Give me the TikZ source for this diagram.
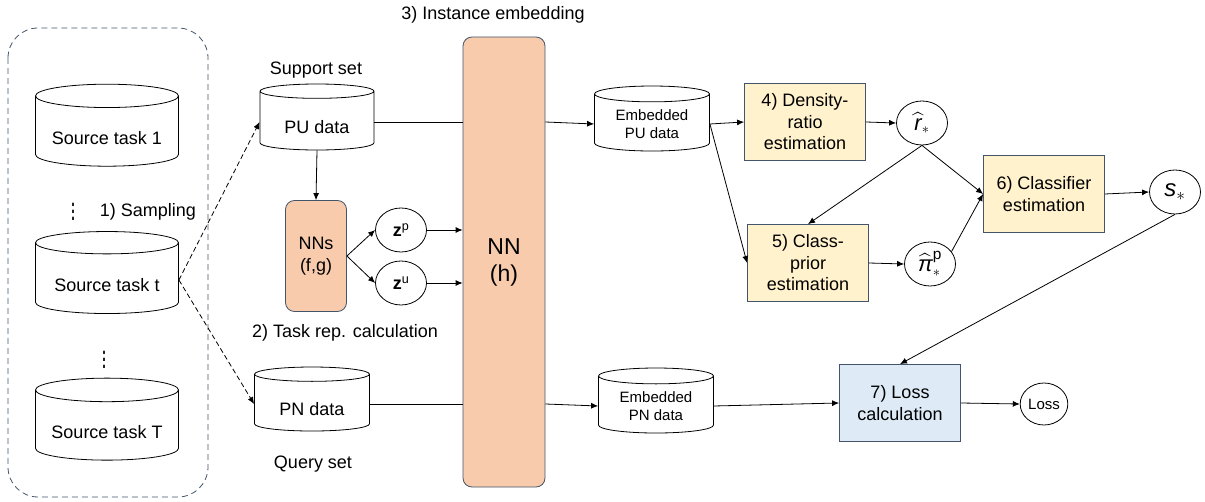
\documentclass[tikz,border=0pt]{standalone}
\usepackage{amsmath}
\usepackage{graphicx}
\usepackage{fontspec}
\setmainfont{Liberation Sans}
\usetikzlibrary{positioning,shapes.geometric,arrows.meta}
\definecolor{edge}{HTML}{44546A}
\definecolor{peach}{HTML}{F8CBAD}
\definecolor{cream}{HTML}{FFF2CC}
\definecolor{paleblue}{HTML}{DEEBF7}
\tikzset{basic/.style={draw,font=\fontsize{18}{21.5}\selectfont,align=center}}
\tikzset{tag/.style={font=\fontsize{18}{21.5}\selectfont}}
\tikzset{db/.style={basic,cylinder,shape border rotate=90,aspect=0.2,minimum width=143pt,minimum height=82pt}}
\tikzset{smalldb/.style={db,font=\fontsize{15}{18}\selectfont,minimum width=115pt,minimum height=65pt}}
\tikzset{estim/.style={basic,rectangle,draw=edge,fill=cream,minimum width=121pt,minimum height=77pt}}
\tikzset{net/.style={basic,rectangle,rounded corners=9pt,draw=edge,fill=peach}}
\tikzset{var/.style={basic,ellipse,minimum width=51pt,minimum height=44pt,inner sep=1pt}}
\tikzset{link/.style={-{Latex[length=7pt,width=6pt]}}}
\newcommand{\tallvdots}{\scalebox{1}[1.7]{$\vdots$}}
\newcommand{\lowtext}[1]{\raisebox{-5pt}[\height][\depth]{#1}}

\begin{document}
\begin{tikzpicture}[x=1pt,y=-1pt,line width=0.8pt]
        \useasboundingbox (0,0) rectangle (1205,502);
        % source tasks
        \draw[edge,dash pattern=on 6pt off 4pt,rounded corners=30pt] (8,28) rectangle (208,497);
        \node[db] (src1) at (107,133) {\lowtext{Source task 1}};
        \node[db] (srct) at (107,280) {\lowtext{Source task t}};
        \node[db] (srcT) at (107,427) {\lowtext{Source task T}};
        \node[tag] (dots1) at (73,207) {\tallvdots};
        \node[tag] (dots2) at (104,355) {\tallvdots};
        \node[tag] (sampling) at (148,212) {1) Sampling};
        % support and query sets
        \node[db,minimum width=114pt,minimum height=66pt] (pu) at (317,122) {\lowtext{PU data}};
        \node[tag] (support) at (316,70) {Support set};
        \node[net,minimum width=61pt,minimum height=111pt] (nns) at (316,256) {NNs\\(f,g)};
        \node[var] (zp) at (401,230) {\textbf{z}\textsuperscript{p}};
        \node[var] (zu) at (401,283) {\textbf{z}\textsuperscript{u}};
        \node[tag] (taskrep) at (345,333) {2) Task rep. calculation};
        \node[db,minimum width=115pt,minimum height=64pt] (pn) at (312,404) {\lowtext{PN data}};
        \node[tag] (query) at (313,464) {Query set};
        % instance embedding
        \node[net,minimum width=82pt,minimum height=450pt,font=\fontsize{23}{27}\selectfont] (nn) at (504,262) {NN\\(h)};
        \node[tag] (embed) at (493,15) {3) Instance embedding};
        \node[smalldb] (epu) at (652,124) {Embedded\\PU data};
        \node[smalldb] (epn) at (656,406) {Embedded\\PN data};
        % estimation steps
        \node[estim] (dre) at (805,122) {4) Density-\\ratio\\estimation};
        \node[estim] (cpe) at (808,263) {5) Class-\\prior\\estimation};
        \node[var,font=\fontsize{22}{26}\selectfont] (rhat) at (922,123) {$\widehat{\textit{r}}_{\ast}$};
        \node[var,font=\fontsize{22}{26}\selectfont] (pihat) at (930,264) {$\widehat{\textit{π}}^{\textrm{p}}_{\ast}$};
        \node[estim] (cls) at (1044,194) {6) Classifier\\estimation};
        \node[var,font=\fontsize{24}{28}\selectfont] (s) at (1175,192) {$\textit{s}_{\ast}$};
        \node[estim,fill=paleblue] (losscalc) at (900,403) {7) Loss\\calculation};
        \node[var,font=\fontsize{15}{18}\selectfont,minimum width=43pt,minimum height=42pt] (loss) at (1044,404) {Loss};
        % connectors
            \draw[link,dash pattern=on 5pt off 3pt] (srct.east) -- (pu.west);
            \draw[link,dash pattern=on 5pt off 3pt] (srct.east) -- (pn.west);
            \draw[link] (pu.south) -- (nns.north);
            \draw[link] (nns.east) -- (zp.west);
            \draw[link] (nns.east) -- (zu.west);
            \draw[link] (zp.east) -- (zp.east -| nn.west);
            \draw[link] (zu.east) -- (zu.east -| nn.west);
            \draw (pu.east) -- (pu.east -| nn.west);
            \draw[link] (pu.east -| nn.east) -- (epu.west);
            \draw (pn.east) -- (pn.east -| nn.west);
            \draw[link] (pn.east -| nn.east) -- (epn.west);
            \draw[link] (epu.east) -- (dre.west);
            \draw[link] (epu.east) -- (cpe.west);
            \draw[link] (dre.east) -- (rhat.west);
            \draw[link] (cpe.east) -- (pihat.west);
            \draw[link] (rhat.south) -- (cpe.north);
            \draw[link] (rhat.south) -- (cls.west);
            \draw[link] (pihat.30) -- (cls.west);
            \draw[link] (cls.east) -- (s.west);
            \draw[link] (s.south) -- (losscalc.north);
            \draw[link] (epn.east) -- (losscalc.west);
            \draw[link] (losscalc.east) -- (loss.west);
\end{tikzpicture}
\end{document}
